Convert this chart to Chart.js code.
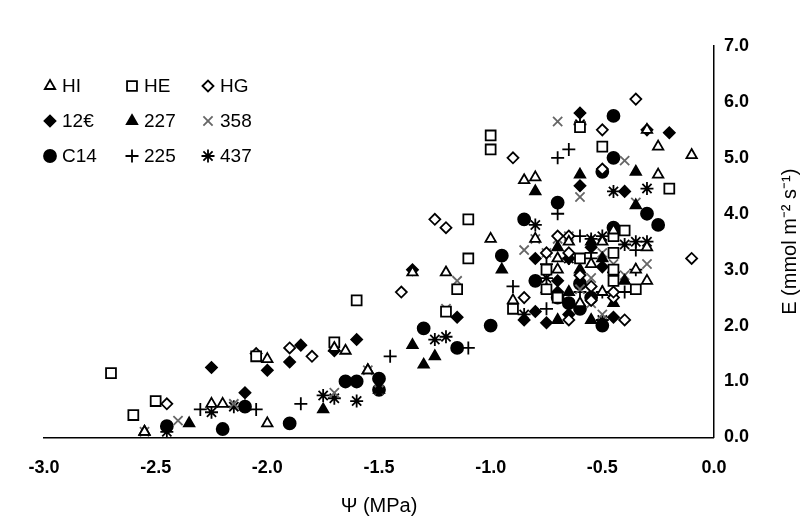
<!DOCTYPE html>
<html><head><meta charset="utf-8">
<script src="https://cdn.jsdelivr.net/npm/chart.js@4"></script>
<style>body{margin:0;background:#fff}#wrap{width:808px;height:525px}</style>
</head><body><div id="wrap"><canvas id="c"></canvas></div>
<script>
const HI = [[-2.55,0.1],[-2.25,0.6],[-2.2,0.6],[-2.0,0.25],[-2.0,1.4],[-1.7,1.6],[-1.65,1.55],[-1.55,1.2],[-1.35,2.95],[-1.2,2.95],[-1.0,3.55],[-0.9,2.45],[-0.85,4.6],[-0.8,4.65],[-0.8,3.55],[-0.7,3.0],[-0.7,3.2],[-0.65,3.5],[-0.55,3.1],[-0.5,3.5],[-0.45,3.7],[-0.35,3.0],[-0.3,2.8],[-0.3,5.5],[-0.25,5.2],[-0.25,4.7],[-0.1,5.05],[-0.6,2.4],[-0.5,2.6],[-0.3,3.4]];
const HE = [[-2.7,1.15],[-2.6,0.4],[-2.5,0.65],[-2.05,1.45],[-1.7,1.7],[-1.6,2.45],[-1.2,2.25],[-1.15,2.65],[-1.1,3.9],[-1.1,3.2],[-1.0,5.4],[-1.0,5.15],[-0.75,2.65],[-0.75,3.0],[-0.7,2.5],[-0.6,5.55],[-0.6,3.2],[-0.5,5.2],[-0.45,3.0],[-0.45,3.3],[-0.45,3.6],[-0.45,2.8],[-0.4,3.7],[-0.35,2.65],[-0.2,4.45],[-0.9,2.3]];
const HG = [[-2.45,0.6],[-2.05,1.5],[-1.9,1.6],[-1.8,1.45],[-1.4,2.6],[-1.25,3.9],[-1.2,3.75],[-0.9,5.0],[-0.85,2.5],[-0.7,3.6],[-0.65,3.6],[-0.65,3.3],[-0.6,2.9],[-0.55,2.7],[-0.5,5.5],[-0.5,4.8],[-0.45,2.5],[-0.45,2.6],[-0.4,2.1],[-0.35,6.05],[-0.1,3.2],[-0.65,2.1],[-0.55,2.45],[-0.75,3.3]];
const S12 = [[-2.25,1.25],[-2.1,0.8],[-2.0,1.2],[-1.9,1.35],[-1.85,1.65],[-1.7,1.55],[-1.6,1.75],[-1.35,3.0],[-1.15,2.15],[-0.85,2.1],[-0.8,2.25],[-0.75,2.05],[-0.7,2.8],[-0.65,2.2],[-0.65,3.2],[-0.6,5.8],[-0.6,4.5],[-0.55,3.4],[-0.5,3.05],[-0.45,2.15],[-0.4,4.4],[-0.3,5.5],[-0.2,5.45],[-0.8,3.2],[-0.7,2.6]];
const S227 = [[-2.55,0.1],[-2.35,0.25],[-2.1,0.55],[-1.75,0.5],[-1.55,1.2],[-1.5,0.85],[-1.35,1.65],[-1.3,1.3],[-1.25,1.45],[-0.95,3.0],[-0.8,4.4],[-0.75,2.65],[-0.7,2.1],[-0.65,2.6],[-0.6,4.7],[-0.55,3.5],[-0.55,2.1],[-0.5,3.2],[-0.4,2.8],[-0.35,4.75],[-0.35,4.15],[-0.45,2.4],[-0.7,3.4],[-0.6,3.0]];
const S358 = [[-2.55,0.1],[-2.4,0.3],[-2.15,0.6],[-1.7,0.8],[-1.55,1.2],[-1.5,0.85],[-1.2,2.3],[-1.15,2.8],[-0.85,3.35],[-0.8,3.55],[-0.75,3.3],[-0.7,5.65],[-0.7,3.55],[-0.65,3.6],[-0.6,4.3],[-0.55,2.85],[-0.5,3.3],[-0.5,2.2],[-0.45,3.1],[-0.4,4.95],[-0.35,4.2],[-0.3,3.1],[-0.6,2.65],[-0.4,2.9],[-0.55,2.4]];
const C14 = [[-2.45,0.2],[-2.2,0.15],[-2.1,0.55],[-1.9,0.25],[-1.65,1.0],[-1.6,1.0],[-1.5,0.85],[-1.5,1.05],[-1.3,1.95],[-1.15,1.6],[-1.0,2.0],[-0.95,3.25],[-0.8,2.8],[-0.7,4.2],[-0.7,2.5],[-0.65,2.4],[-0.6,2.75],[-0.55,2.5],[-0.5,2.0],[-0.45,5.75],[-0.45,5.0],[-0.45,3.75],[-0.3,4.0],[-0.25,3.8],[-0.5,4.75],[-0.85,3.9],[-0.6,2.3]];
const S225 = [[-2.3,0.5],[-2.05,0.5],[-1.85,0.6],[-1.45,1.45],[-1.1,1.6],[-0.9,2.7],[-0.75,3.1],[-0.7,5.0],[-0.7,4.0],[-0.65,5.15],[-0.6,2.6],[-0.55,3.3],[-0.55,3.2],[-0.5,2.6],[-0.45,2.95],[-0.4,2.6],[-0.35,3.35],[-0.35,3.0],[-0.6,3.6],[-0.75,2.3]];
const S437 = [[-2.45,0.1],[-2.25,0.45],[-2.15,0.55],[-1.75,0.75],[-1.7,0.7],[-1.6,0.65],[-1.25,1.75],[-1.2,1.8],[-0.85,2.2],[-0.8,3.8],[-0.65,3.2],[-0.6,5.6],[-0.5,2.1],[-0.5,3.6],[-0.45,4.4],[-0.4,3.45],[-0.35,3.5],[-0.3,3.5],[-0.3,4.45],[-0.55,3.55],[-0.75,2.85]];

const seriesNames = ['HI','HE','HG','12€','227','358','C14','225','437'];
const seriesData = [HI,HE,HG,S12,S227,S358,C14,S225,S437];
// style: [pointStyle, fill, border, radius]
const styles = [
  ['triangle','#fff','#000',6],
  ['rect','#fff','#000',7],
  ['rectRot','#fff','#000',5.5],
  ['rectRot','#000','#000',5.5],
  ['triangle','#000','#000',6],
  ['crossRot','#666','#666',6.5],
  ['circle','#000','#000',6],
  ['cross','#000','#000',6.5],
  ['star','#000','#000',6.5]
];

const datasets = seriesData.map((d,i) => ({
  label: seriesNames[i],
  data: d.map(p => ({x:p[0], y:p[1]})),
  pointStyle: styles[i][0],
  backgroundColor: styles[i][1],
  borderColor: styles[i][2],
  pointRadius: styles[i][3],
  pointBorderWidth: 1.8
}));

const legendPlugin = {
  id:'legendInside',
  afterDraw(chart){
    const ctx = chart.ctx;
    ctx.save();
    ctx.font = '19px "Liberation Sans", Arial';
    ctx.textBaseline = 'middle';
    const cols = [50,132,208], rows = [86,121,156];
    seriesNames.forEach((n,i) => {
      const x = cols[i%3], y = rows[Math.floor(i/3)];
      ctx.fillStyle = styles[i][1]; ctx.strokeStyle = styles[i][2]; ctx.lineWidth = 1.8;
      Chart.helpers.drawPoint(ctx, {pointStyle:styles[i][0], radius:styles[i][3], rotation:0, borderWidth:1.8}, x, y);
      ctx.fillStyle = '#000';
      ctx.fillText(n, x+12, y+1);
    });
    // right axis title, reading bottom-to-top
    const a = chart.chartArea;
    ctx.translate(790, (a.top+a.bottom)/2);
    ctx.rotate(-Math.PI/2);
    ctx.textAlign = 'center';
    ctx.font = '20px "Liberation Sans", Arial';
    ctx.fillText('E (mmol m⁻² s⁻¹)', 0, 0);
    ctx.restore();
  }
};

new Chart(document.getElementById('c'), {
  type:'scatter',
  data:{datasets},
  plugins:[legendPlugin],
  options:{
    responsive:true, maintainAspectRatio:false, animation:false,
    layout:{padding:{left:44, right:56, top:46, bottom:7}},
    plugins:{legend:{display:false}, tooltip:{enabled:false}},
    scales:{
      x:{type:'linear', min:-3, max:0,
        border:{color:'#000', width:1.5},
        grid:{display:false, drawTicks:true, tickLength:7, color:'#000'},
        ticks:{stepSize:0.1, autoSkip:false, maxRotation:0, color:'#000', padding:13,
          font:{size:18, weight:'bold', family:'"Liberation Sans", Arial'},
          callback:v => Math.abs(Math.round(v*10) % 5) === 0 ? v.toFixed(1) : ''},
        title:{display:true, text:'Ψ (MPa)', color:'#000', padding:{top:2, bottom:0}, font:{size:20, family:'"Liberation Sans", Arial'}}
      },
      y:{type:'linear', position:'right', min:0, max:7,
        border:{color:'#000', width:1.5},
        grid:{display:false, drawTicks:true, tickLength:7, color:'#000'},
        ticks:{stepSize:0.5, autoSkip:false, color:'#000',
          font:{size:18, weight:'bold', family:'"Liberation Sans", Arial'},
          callback:v => Math.abs(Math.round(v*10) % 10) === 0 ? v.toFixed(1) : ''}
      }
    }
  }
});
</script></body></html>
